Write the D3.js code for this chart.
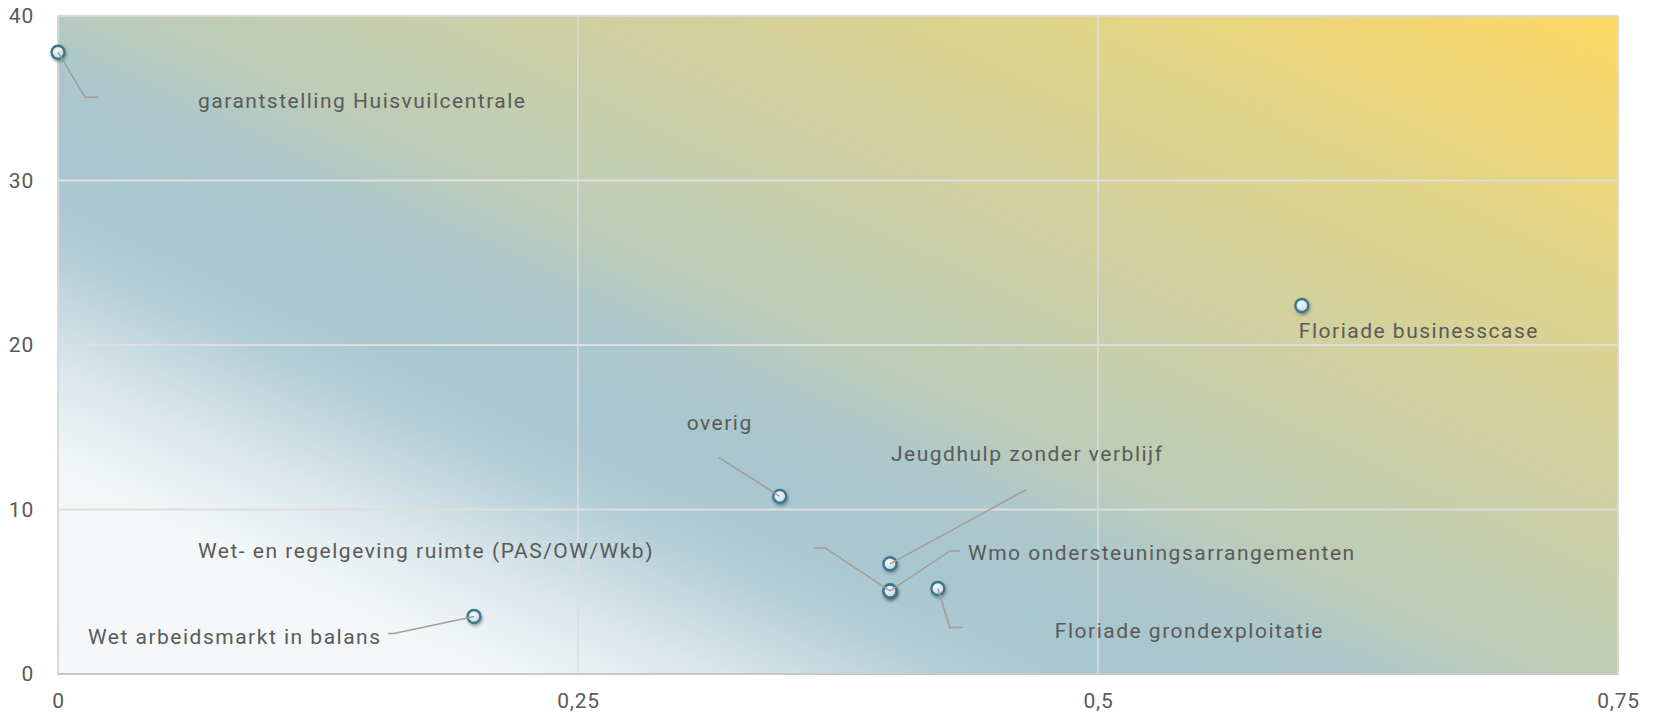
<!DOCTYPE html>
<html>
<head>
<meta charset="utf-8">
<script src="https://cdn.jsdelivr.net/npm/d3@7"></script>
<style>
  body { margin: 0; background: #fff; }
  svg text { font-family: Roboto, "DejaVu Sans Condensed", sans-serif; fill: #5a5a5a; letter-spacing: 1.5px; }
  .tick-label { font-size: 21px; letter-spacing: 0.8px; }
  .point-label { font-size: 21px; }
</style>
</head>
<body>
<script>
'use strict';

// chart values
const names = [
  "garantstelling Huisvuilcentrale",
  "Floriade businesscase",
  "overig",
  "Jeugdhulp zonder verblijf",
  "Wmo ondersteuningsarrangementen",
  "Wet- en regelgeving ruimte (PAS/OW/Wkb)",
  "Floriade grondexploitatie",
  "Wet arbeidsmarkt in balans"
];
const xValues = [0, 0.598, 0.347, 0.4, 0.4, 0.4, 0.423, 0.2];
const yValues = [37.8, 22.4, 10.8, 6.7, 5.05, 5.05, 5.2, 3.5];
const xTicks = [0, 0.25, 0.5, 0.75];
const yTicks = [0, 10, 20, 30, 40];

// label placement relative to the point (pixels)
const labelLayout = [
  {dx: 140, dy: 48, elbow: [27, 45], tail: 13},
  {dx: -3, dy: 25, elbow: null, tail: 0},
  {dx: -93, dy: -74, elbow: [-61, -39], tail: 0},
  {dx: 1, dy: -110, elbow: [136, -74], tail: 0},
  {dx: 78, dy: -38, elbow: [60, -40], tail: 10},
  {dx: -692, dy: -40, elbow: [-65, -43], tail: -11},
  {dx: 117, dy: 42, elbow: [12, 39], tail: 13},
  {dx: -386, dy: 20, elbow: [-80, 17], tail: -6}
];

const width = 1656, height = 719;
const plot = {left: 58, right: 1618, top: 16, bottom: 674};

const svg = d3.select('body').append('svg')
  .attr('width', width)
  .attr('height', height);

const defs = svg.append('defs');

// diagonal background: white bottom-left, blue band, yellow top-right
const grad = defs.append('linearGradient')
  .attr('id', 'bg')
  .attr('gradientUnits', 'userSpaceOnUse')
  .attr('x1', plot.left).attr('y1', plot.bottom)
  .attr('x2', plot.left + 534).attr('y2', plot.bottom - 1140);
[
  [0, '#f5f8f9'], [0.15, '#f3f7f8'], [0.22, '#dbe7eb'], [0.31, '#b0ccd5'],
  [0.37, '#a8c6d0'], [0.44, '#adc8cb'], [0.5, '#bdccb8'], [0.65, '#cfd0a2'],
  [0.8, '#e0d48a'], [0.92, '#f2d774'], [1, '#fed862']
].forEach((s) => {
  grad.append('stop').attr('offset', s[0]).attr('stop-color', s[1]);
});

const dot = defs.append('radialGradient')
  .attr('id', 'dot')
  .attr('cx', '40%').attr('cy', '35%').attr('r', '65%');
dot.append('stop').attr('offset', 0).attr('stop-color', '#f4f9fb');
dot.append('stop').attr('offset', 1).attr('stop-color', '#c4dbe4');

const shadow = defs.append('filter')
  .attr('id', 'shadow')
  .attr('x', '-50%').attr('y', '-50%').attr('width', '200%').attr('height', '200%');
shadow.append('feDropShadow')
  .attr('dx', 1).attr('dy', 2).attr('stdDeviation', 1.5)
  .attr('flood-color', '#2c3e44').attr('flood-opacity', 0.45);

const x = d3.scaleLinear().domain([0, 0.75]).range([plot.left, plot.right]);
const y = d3.scaleLinear().domain([0, 40]).range([plot.bottom, plot.top]);

svg.append('rect')
  .attr('x', plot.left).attr('y', plot.top)
  .attr('width', plot.right - plot.left)
  .attr('height', plot.bottom - plot.top)
  .attr('fill', 'url(#bg)');

// grid
svg.append('g').selectAll('line')
  .data(yTicks)
  .enter().append('line')
    .attr('x1', plot.left).attr('x2', plot.right)
    .attr('y1', (d) => y(d)).attr('y2', (d) => y(d))
    .attr('stroke', '#dedede').attr('stroke-width', 2);

svg.append('g').selectAll('line')
  .data(xTicks)
  .enter().append('line')
    .attr('x1', (d) => x(d)).attr('x2', (d) => x(d))
    .attr('y1', plot.top).attr('y2', plot.bottom)
    .attr('stroke', '#dedede').attr('stroke-width', 1.5);

svg.append('rect')
  .attr('x', plot.left).attr('y', plot.top)
  .attr('width', plot.right - plot.left)
  .attr('height', plot.bottom - plot.top)
  .attr('fill', 'none')
  .attr('stroke', '#d6d6d6').attr('stroke-width', 1.5);

svg.append('line')
  .attr('x1', plot.left).attr('x2', plot.right)
  .attr('y1', plot.bottom).attr('y2', plot.bottom)
  .attr('stroke', '#c8c8c8').attr('stroke-width', 2);

// axes with comma decimals
const nl = d3.formatLocale({decimal: ',', thousands: '.', grouping: [3], currency: ['€', '']});
const fmt = nl.format('~g');

const xAxis = d3.axisBottom(x).tickValues(xTicks).tickFormat(fmt).tickSize(0).tickPadding(19);
const gx = svg.append('g')
  .attr('transform', 'translate(0,' + plot.bottom + ')')
  .call(xAxis);
gx.select('.domain').remove();
gx.selectAll('text').attr('class', 'tick-label').attr('fill', null);

const yAxis = d3.axisLeft(y).tickValues(yTicks).tickFormat(fmt).tickSize(0).tickPadding(24);
const gy = svg.append('g')
  .attr('transform', 'translate(' + plot.left + ',0)')
  .call(yAxis);
gy.select('.domain').remove();
gy.selectAll('text').attr('class', 'tick-label').attr('fill', null);

// points
const rows = names.map((n, i) => ({name: n, x: xValues[i], y: yValues[i], lay: labelLayout[i]}));

svg.append('g').selectAll('circle')
  .data(rows)
  .enter().append('circle')
    .attr('cx', (d) => x(d.x))
    .attr('cy', (d) => y(d.y))
    .attr('r', 6.5)
    .attr('fill', 'url(#dot)')
    .attr('stroke', '#3d7689')
    .attr('stroke-width', 2.4)
    .attr('filter', 'url(#shadow)');

// connectors
svg.append('g').selectAll('path')
  .data(rows.filter((d) => d.lay.elbow))
  .enter().append('path')
    .attr('d', (d) => {
      let px = x(d.x), py = y(d.y);
      let ex = px + d.lay.elbow[0], ey = py + d.lay.elbow[1];
      return 'M' + px + ',' + py + 'L' + ex + ',' + ey + 'L' + (ex + d.lay.tail) + ',' + ey;
    })
    .attr('fill', 'none')
    .attr('stroke', '#a39c9a')
    .attr('stroke-width', 1.5);

// labels
svg.append('g').selectAll('text')
  .data(rows)
  .enter().append('text')
    .attr('class', 'point-label')
    .attr('x', (d) => x(d.x) + d.lay.dx)
    .attr('y', (d) => y(d.y) + d.lay.dy)
    .attr('dy', '0.35em')
    .text((d) => d.name);
</script>
</body>
</html>
